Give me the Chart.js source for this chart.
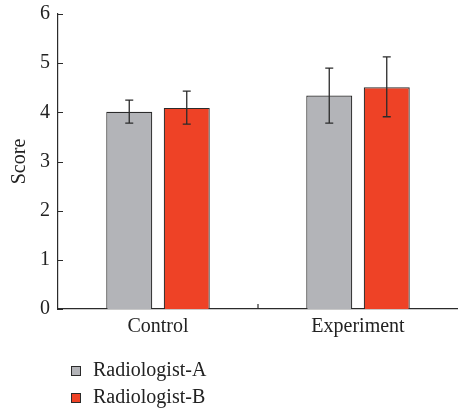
<!DOCTYPE html>
<html>
<head>
<meta charset="utf-8">
<script src="https://cdn.jsdelivr.net/npm/chart.js@4"></script>
<style>
  html, body { margin: 0; padding: 0; background: #fff; }
  #wrap { width: 458px; height: 411px; }
</style>
</head>
<body>
<div id="wrap"><canvas id="grafica" width="458" height="411"></canvas></div>
<script>
// datos
const categorias = ['Control', 'Experiment'];
const nombresSeries = ['Radiologist-A', 'Radiologist-B'];
const radiologoA = [4.01, 4.34];
const radiologoB = [4.09, 4.51];
const errorBajoA = [3.78, 3.78];
const errorAltoA = [4.25, 4.90];
const errorBajoB = [3.76, 3.91];
const errorAltoB = [4.43, 5.13];
const ticksY = [0, 1, 2, 3, 4, 5, 6];

const coloresSeries = ['#b3b4b8', '#ee4226'];
const errores = [
    { bajo: errorBajoA, alto: errorAltoA },
    { bajo: errorBajoB, alto: errorAltoB }
];
const fuente = { family: '"Liberation Serif", "Times New Roman", serif', size: 20 };
const tinta = '#2b2b2b';

// barras de error, marcas interiores y leyenda
const extras = {
    id: 'extras',
    afterDatasetsDraw(chart) {
        const ctx = chart.ctx;
        const y = chart.scales.y;
        ctx.save();
        ctx.strokeStyle = tinta;
        ctx.lineWidth = 1.3;
        errores.forEach((err, i) => {
            chart.getDatasetMeta(i).data.forEach((barra, j) => {
                const yb = y.getPixelForValue(err.bajo[j]);
                const ya = y.getPixelForValue(err.alto[j]);
                ctx.beginPath();
                ctx.moveTo(barra.x, yb);
                ctx.lineTo(barra.x, ya);
                ctx.moveTo(barra.x - 4, yb);
                ctx.lineTo(barra.x + 4, yb);
                ctx.moveTo(barra.x - 4, ya);
                ctx.lineTo(barra.x + 4, ya);
                ctx.stroke();
            });
        });
        ctx.restore();
    },
    afterDraw(chart) {
        const ctx = chart.ctx;
        const area = chart.chartArea;
        const x = chart.scales.x;
        const y = chart.scales.y;
        ctx.save();
        ctx.strokeStyle = tinta;
        ctx.lineWidth = 1.2;
        ctx.beginPath();
        ticksY.forEach(v => {
            const py = Math.round(y.getPixelForValue(v)) + 0.5;
            ctx.moveTo(area.left, py);
            ctx.lineTo(area.left + 5, py);
        });
        const medio = (x.getPixelForValue(0) + x.getPixelForValue(1)) / 2;
        ctx.moveTo(medio, area.bottom);
        ctx.lineTo(medio, area.bottom - 5);
        ctx.stroke();

        // leyenda
        ctx.font = fuente.size + 'px ' + fuente.family;
        ctx.textBaseline = 'middle';
        ctx.textAlign = 'left';
        nombresSeries.forEach((nombre, i) => {
            const cy = area.bottom + 62 + i * 27;
            ctx.fillStyle = coloresSeries[i];
            ctx.fillRect(71, cy - 5, 10, 10);
            ctx.strokeStyle = tinta;
            ctx.lineWidth = 1;
            ctx.strokeRect(71.5, cy - 4.5, 9, 9);
            ctx.fillStyle = '#222';
            ctx.fillText(nombre, 93, cy);
        });
        ctx.restore();
    }
};

const ctx = document.getElementById('grafica').getContext('2d');
new Chart(ctx, {
    type: 'bar',
    data: {
        labels: categorias,
        datasets: [
            {
                label: nombresSeries[0],
                data: radiologoA,
                backgroundColor: coloresSeries[0],
                borderColor: tinta,
                borderWidth: 1.2
            },
            {
                label: nombresSeries[1],
                data: radiologoB,
                backgroundColor: coloresSeries[1],
                borderColor: tinta,
                borderWidth: 1.2
            }
        ]
    },
    options: {
        responsive: false,
        animation: false,
        layout: { padding: { top: 14, right: 0, bottom: 0, left: 0 } },
        datasets: { bar: { categoryPercentage: 0.575, barPercentage: 0.8 } },
        scales: {
            x: {
                grid: { display: false, drawTicks: false },
                border: { display: true, color: tinta, width: 1.2 },
                ticks: { color: '#222', font: fuente, padding: 6 },
                afterFit: s => { s.height = 102; s.paddingLeft = 0; s.paddingRight = 0; }
            },
            y: {
                min: 0,
                max: 6,
                grid: { display: false, drawTicks: false },
                border: { display: true, color: tinta, width: 1.2 },
                ticks: { stepSize: 1, color: '#222', font: fuente, padding: 8 },
                title: { display: true, text: 'Score', color: '#222', font: fuente, padding: { top: 8, bottom: 0 } },
                afterFit: s => { s.width = 58; s.paddingTop = 0; s.paddingBottom = 0; }
            }
        },
        plugins: {
            legend: { display: false },
            tooltip: { enabled: false }
        }
    },
    plugins: [extras]
});
</script>
</body>
</html>
